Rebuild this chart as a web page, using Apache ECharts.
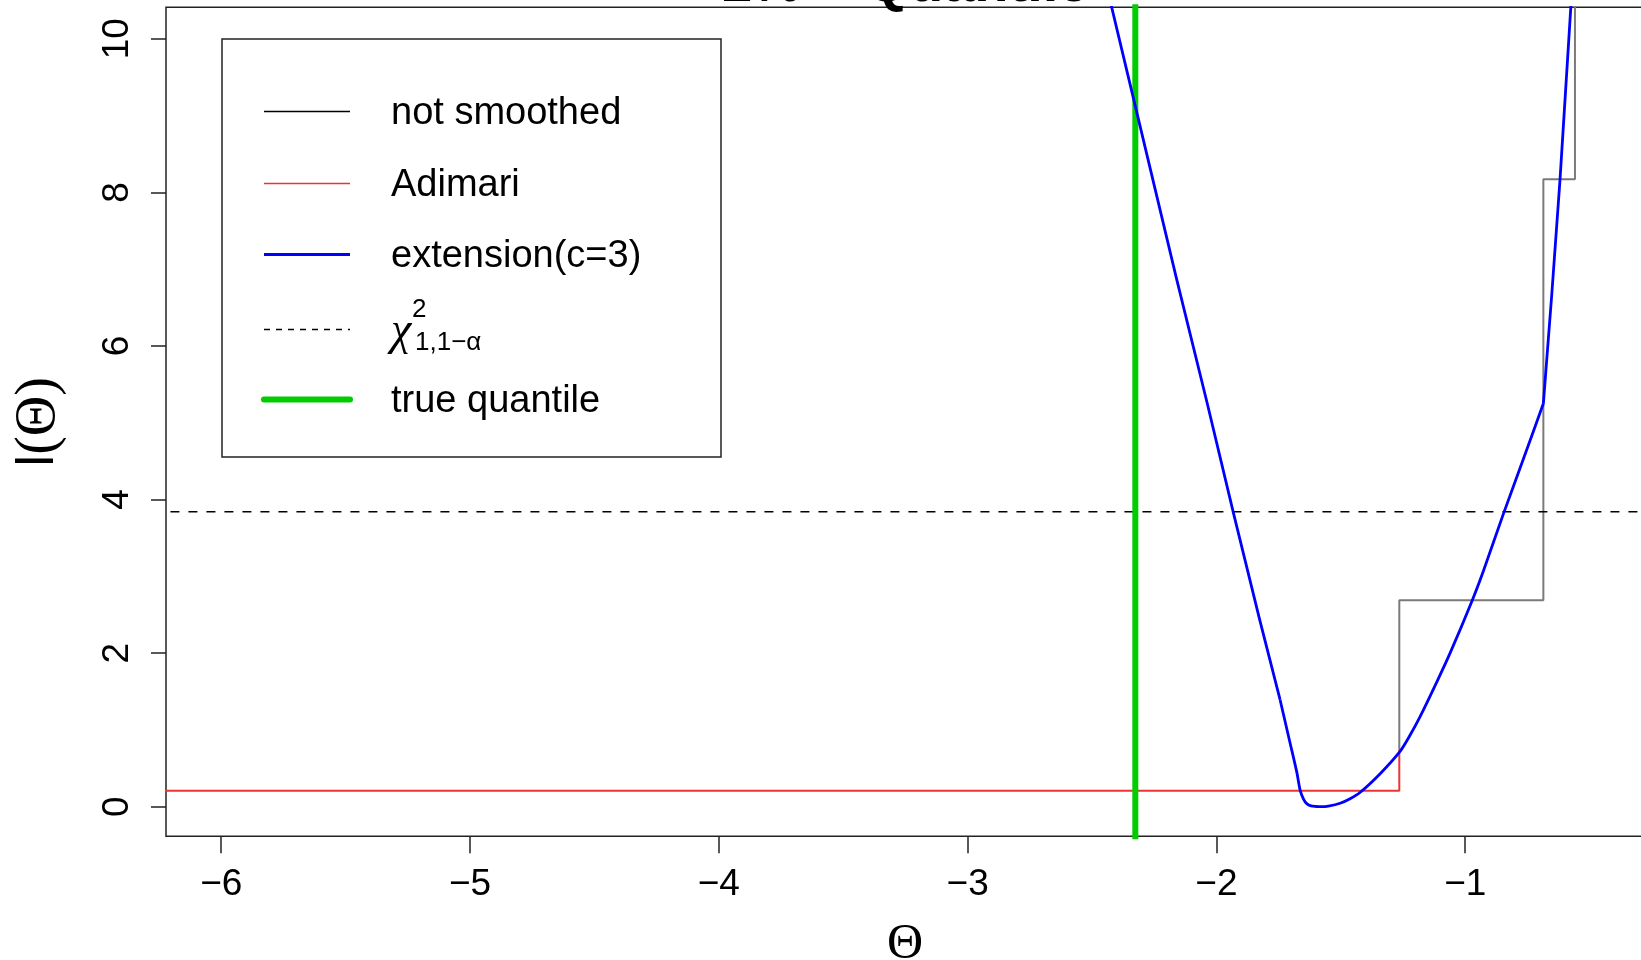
<!DOCTYPE html>
<html>
<head>
<meta charset="utf-8">
<script src="https://cdn.jsdelivr.net/npm/echarts@6/dist/echarts.min.js"></script>
<style>
  html, body { margin: 0; padding: 0; background: #fff; }
  #chart { width: 1641px; height: 960px; }
</style>
</head>
<body>
<div id="chart"></div>
<script>
// Smoothed empirical likelihood ratio, extension with c = 3
const extTheta = [-2.435, -2.323, -2.160, -2.039, -1.932, -1.825, -1.744, -1.704, -1.677, -1.664,
                  -1.650, -1.637, -1.620, -1.600, -1.577, -1.550, -1.503, -1.463, -1.423, -1.342,
                  -1.262, -1.222, -1.182, -1.115, -1.061, -0.974, -0.927, -0.847, -0.766, -0.686,
                  -0.652, -0.619, -0.572];
const extL = [10.60, 9.08, 6.87, 5.28, 3.83, 2.42, 1.39, 0.83, 0.45, 0.22,
              0.10, 0.04, 0.01, 0.003, 0.0, 0.008, 0.045, 0.105, 0.185, 0.43,
              0.72, 0.93, 1.17, 1.62, 2.00, 2.67, 3.07, 3.81, 4.53, 5.25,
              6.68, 8.17, 10.60];

// Unsmoothed statistic (step function)
const stepTheta = [-1.265, -1.265, -0.686, -0.686, -0.559, -0.559];
const stepL = [0.74, 2.69, 2.69, 8.17, 8.17, 11];

// Adimari's statistic
const adimariTheta = [-6.5, -1.265, -1.265];
const adimariL = [0.208, 0.208, 0.74];

const chiSq = 3.841;          // chi-square(1) 0.95 quantile
const trueQuantile = -2.326;  // true 1% quantile

const xTicks = [-6, -5, -4, -3, -2, -1];
const yTicks = [0, 2, 4, 6, 8, 10];

const legendLabels = ['not smoothed', 'Adimari', 'extension(c=3)', '', 'true quantile'];

const zip = (a, b) => a.map((v, i) => [v, b[i]]);
const SANS = '"Liberation Sans", Arial, sans-serif';
const SERIF = '"Liberation Serif", "DejaVu Serif", serif';
const fmt = v => (v < 0 ? '\u2212' : '') + Math.abs(v);

// the curve is drawn in three pieces: straight descent, rounded bottom, steep rise after the kink
const extPts = zip(extTheta, extL);
const iBend = extTheta.indexOf(-1.744);
const iKink = extTheta.indexOf(-0.686);
const extPieces = [
  { data: extPts.slice(0, iBend + 1), smooth: false },
  { data: extPts.slice(iBend, iKink + 1), smooth: 0.25 },
  { data: extPts.slice(iKink), smooth: false }
];

const chart = echarts.init(document.getElementById('chart'), null, { renderer: 'canvas' });

// legend box drawn as graphics so the chi-square label can carry sub/superscripts
const lgX1 = 264, lgX2 = 350, lgText = 391;
const rows = [111.5, 183.5, 254.5, 329.5, 399.5];
const legendGraphics = [
  { type: 'rect', shape: { x: 222, y: 39, width: 499, height: 418 },
    style: { fill: '#fff', stroke: '#222', lineWidth: 1.5 }, z: 100 },
  { type: 'line', shape: { x1: lgX1, y1: rows[0], x2: lgX2, y2: rows[0] }, style: { stroke: '#000', lineWidth: 1.5 }, z: 101 },
  { type: 'line', shape: { x1: lgX1, y1: rows[1], x2: lgX2, y2: rows[1] }, style: { stroke: '#ee3333', lineWidth: 1.5 }, z: 101 },
  { type: 'line', shape: { x1: lgX1, y1: rows[2], x2: lgX2, y2: rows[2] }, style: { stroke: '#0000ff', lineWidth: 2.8 }, z: 101 },
  { type: 'line', shape: { x1: lgX1, y1: rows[3], x2: lgX2, y2: rows[3] }, style: { stroke: '#000', lineWidth: 1.5, lineDash: [6, 6] }, z: 101 },
  { type: 'line', shape: { x1: lgX1, y1: rows[4], x2: lgX2, y2: rows[4] }, style: { stroke: '#00cc00', lineWidth: 6, lineCap: 'round' }, z: 101 }
];
[0, 1, 2, 4].forEach(i => {
  legendGraphics.push({ type: 'text', z: 101,
    style: { text: legendLabels[i], x: lgText, y: rows[i] + 2, font: '38px ' + SANS, fill: '#000', verticalAlign: 'middle' } });
});
legendGraphics.push(
  { type: 'text', z: 101, style: { text: '\u03c7', x: lgText, y: 332, font: 'italic 46px ' + SERIF, fill: '#000', verticalAlign: 'middle' } },
  { type: 'text', z: 101, style: { text: '2', x: 412, y: 310, font: '26px ' + SANS, fill: '#000', verticalAlign: 'middle' } },
  { type: 'text', z: 101, style: { text: '1,1\u2212\u03b1', x: 415, y: 343, font: '26px ' + SANS, fill: '#000', verticalAlign: 'middle' } }
);

const option = {
  animation: false,
  backgroundColor: '#fff',
  grid: {
    left: 166, top: 7.3, right: -3, bottom: 123.8,
    outerBoundsMode: 'none', containLabel: false,
    show: true, borderColor: '#222', borderWidth: 1.5, backgroundColor: 'transparent'
  },
  xAxis: {
    type: 'value', min: -6.222, max: -0.2815,
    name: '\u0398', nameLocation: 'middle', nameGap: 84,
    nameTextStyle: { fontFamily: SERIF, fontSize: 50, color: '#000' },
    axisLine: { show: false, onZero: false },
    splitLine: { show: false },
    axisTick: { show: true, length: 17, customValues: xTicks, lineStyle: { color: '#222', width: 1.5 } },
    axisLabel: { customValues: xTicks, formatter: fmt, fontFamily: SANS, fontSize: 37, color: '#000', margin: 30 }
  },
  yAxis: {
    type: 'value', min: -0.384, max: 10.41,
    name: '{a|l}{b|(\u0398)}', nameLocation: 'middle', nameGap: 99,
    nameTextStyle: {
      color: '#000',
      rich: { a: { fontFamily: SANS, fontSize: 52, color: '#000' }, b: { fontFamily: SERIF, fontSize: 56, color: '#000' } }
    },
    axisLine: { show: false, onZero: false },
    splitLine: { show: false },
    axisTick: { show: true, length: 15, customValues: yTicks, lineStyle: { color: '#222', width: 1.5 } },
    axisLabel: { customValues: yTicks, formatter: fmt, rotate: 90, fontFamily: SANS, fontSize: 37, color: '#000', margin: 30 }
  },
  graphic: [
    { type: 'text', z: 50, style: { text: '1% \u2212 Quantile', x: 905, y: 14, align: 'center', verticalAlign: 'bottom',
      font: 'bold 56px ' + SANS, fill: '#000' } }
  ].concat(legendGraphics),
  series: [
    { name: 'not smoothed', type: 'line', data: zip(stepTheta, stepL), showSymbol: false, silent: true,
      lineStyle: { color: '#7a7a7a', width: 2 }, z: 1 },
    { name: 'Adimari', type: 'line', data: zip(adimariTheta, adimariL), showSymbol: false, silent: true,
      lineStyle: { color: '#ee3333', width: 2 }, z: 2 },
    { name: 'chi-square', type: 'line', data: [[-7, chiSq], [1, chiSq]], showSymbol: false, silent: true,
      lineStyle: { color: '#000', width: 1.6, type: [9, 9] }, z: 3 },
    { name: 'true quantile', type: 'line', data: [[trueQuantile, -1], [trueQuantile, 11]], showSymbol: false, silent: true,
      lineStyle: { color: '#00cc00', width: 6 }, z: 4 }
  ].concat(extPieces.map(p => ({
    name: 'extension(c=3)', type: 'line', data: p.data, smooth: p.smooth, showSymbol: false, silent: true,
    lineStyle: { color: '#0000ff', width: 2.8, join: 'round' }, z: 5
  })))
};
chart.setOption(option);
</script>
</body>
</html>
